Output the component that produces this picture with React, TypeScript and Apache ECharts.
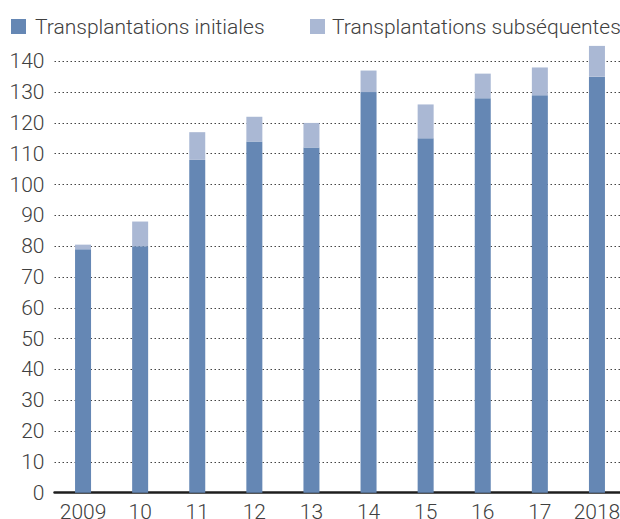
import React, { useEffect, useRef } from "react";
import * as echarts from "echarts";

const categories = ["2009", "10", "11", "12", "13", "14", "15", "16", "17", "2018"];
const initiales = [79, 80, 108, 114, 112, 130, 115, 128, 129, 135];
const subsequentes = [1.5, 8, 9, 8, 8, 7, 11, 8, 9, 10];
const yTicks = { min: 0, max: 140, interval: 10 };

const FONT = "Roboto, 'Liberation Sans', Arial, sans-serif";
const DARK = "#6587b4";
const LIGHT = "#aab8d4";
const TEXT = "#404040";

export default function App() {
  const ref = useRef<HTMLDivElement>(null);
  useEffect(() => {
    if (!ref.current) return;
    const chart = echarts.init(ref.current, null, { renderer: "svg" });
    chart.setOption({
      animation: false,
      textStyle: { fontFamily: FONT },
      legend: [
        {
          data: ["Transplantations initiales"],
          left: 11,
          top: 16,
          padding: 0,
          itemWidth: 15,
          itemHeight: 15,
          icon: "rect",
          textStyle: { fontSize: 21, color: TEXT, fontFamily: FONT, fontWeight: 300, padding: [0, 0, 0, 4] },
        },
        {
          data: ["Transplantations subséquentes"],
          left: 310,
          top: 16,
          padding: 0,
          itemWidth: 15,
          itemHeight: 15,
          icon: "rect",
          textStyle: { fontSize: 21, color: TEXT, fontFamily: FONT, fontWeight: 300, padding: [0, 0, 0, 2] },
        },
      ],
      grid: {
        left: 54.5,
        width: 571,
        top: 61.3,
        bottom: 26.3,
        containLabel: false,
        outerBoundsMode: "none",
      },
      xAxis: {
        type: "category",
        data: categories,
        axisLine: { show: true, lineStyle: { color: "#1e1e1e", width: 2.5 } },
        axisTick: { show: false },
        axisLabel: { fontSize: 21, color: TEXT, margin: 9, fontFamily: FONT, fontWeight: 300, interval: 0 },
        splitLine: { show: false },
      },
      yAxis: {
        type: "value",
        min: yTicks.min,
        max: yTicks.max,
        interval: yTicks.interval,
        axisLine: { show: false },
        axisTick: { show: false },
        axisLabel: {
          fontSize: 21,
          color: TEXT,
          margin: 10,
          fontFamily: FONT,
          fontWeight: 300,
          padding: [0, 0, 10, 0],
        },
        splitLine: { show: true, lineStyle: { color: "#444", width: 1, type: [1.5, 2.5] } },
      },
      series: [
        {
          name: "Transplantations initiales",
          type: "bar",
          stack: "t",
          data: initiales,
          barWidth: 16,
          clip: false,
          itemStyle: { color: DARK },
        },
        {
          name: "Transplantations subséquentes",
          type: "bar",
          stack: "t",
          data: subsequentes,
          barWidth: 16,
          clip: false,
          itemStyle: { color: LIGHT },
        },
      ],
    });
    return () => chart.dispose();
  }, []);
  return <div ref={ref} style={{ width: 620, height: 519, position: "absolute", left: 0, top: 0 }} />;
}
